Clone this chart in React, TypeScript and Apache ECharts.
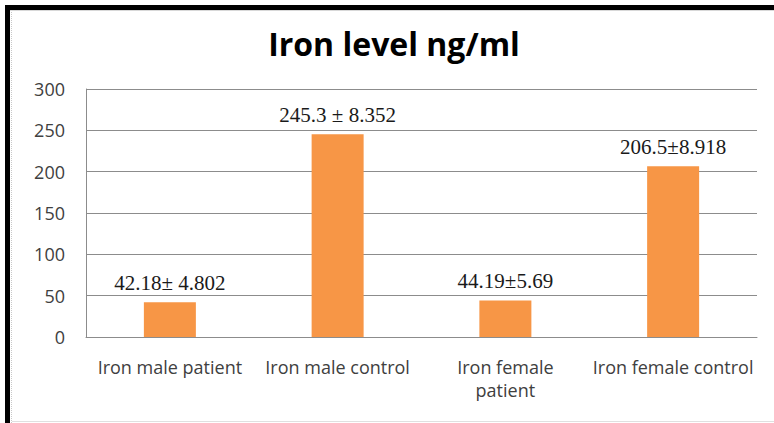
import React, { useEffect, useRef } from "react";
import * as echarts from "echarts";

const categories = [
  "Iron male patient",
  "Iron male control",
  "Iron female\npatient",
  "Iron female control",
];
const values = [42.18, 245.3, 44.19, 206.5];
const valueLabels = ["42.18\u00b1 4.802", "245.3 \u00b1 8.352", "44.19\u00b15.69", "206.5\u00b18.918"];
const titleText = "Iron level ng/ml";
const yMin = 0;
const yMax = 300;
const yInterval = 50;

export default function App() {
  const ref = useRef<HTMLDivElement>(null);
  useEffect(() => {
    document.body.style.margin = "0";
    const chart = echarts.init(ref.current!, undefined, { renderer: "svg" });
    chart.setOption({
      animation: false,
      backgroundColor: "#ffffff",
      grid: {
        left: 86,
        right: 17,
        top: 89,
        bottom: 86,
        containLabel: false,
        outerBoundsMode: "none",
      },
      graphic: [
        { type: "rect", shape: { x: 5, y: 5, width: 769, height: 5 }, style: { fill: "#000" }, silent: true },
        { type: "rect", shape: { x: 5, y: 5, width: 5, height: 418 }, style: { fill: "#000" }, silent: true },
        { type: "line", shape: { x1: 11.5, y1: 10, x2: 11.5, y2: 423 }, style: { stroke: "#c8c8c8", lineWidth: 1, lineDash: [1, 1] }, silent: true },
        { type: "line", shape: { x1: 10, y1: 10.5, x2: 774, y2: 10.5 }, style: { stroke: "#d8d8d8", lineWidth: 1 }, silent: true },
        { type: "line", shape: { x1: 12, y1: 421.5, x2: 774, y2: 421.5 }, style: { stroke: "#e0e0e0", lineWidth: 1 }, silent: true },
        {
          type: "text",
          x: 394,
          y: 43,
          style: {
            text: titleText,
            font: "bold 32px 'Open Sans'",
            fill: "#000",
            textAlign: "center",
            textVerticalAlign: "middle",
          },
        },
      ],
      xAxis: {
        type: "category",
        data: categories,
        axisLine: { show: true, lineStyle: { color: "#8c8c8c", width: 1 } },
        axisTick: { show: false },
        axisLabel: {
          interval: 0,
          color: "#404040",
          fontFamily: "Open Sans",
          fontSize: 18,
          lineHeight: 23,
          margin: 18,
        },
      },
      yAxis: {
        type: "value",
        min: yMin,
        max: yMax,
        interval: yInterval,
        axisLine: { show: true, lineStyle: { color: "#8c8c8c", width: 1 } },
        axisTick: { show: false },
        splitLine: { show: true, lineStyle: { color: "#8c8c8c", width: 1 } },
        axisLabel: {
          color: "#404040",
          fontFamily: "Open Sans",
          fontSize: 18,
          margin: 21,
        },
      },
      series: [
        {
          type: "bar",
          data: values,
          barWidth: 52,
          itemStyle: { color: "#F79646" },
          label: {
            show: true,
            position: "top",
            distance: 9,
            formatter: (p: any) => valueLabels[p.dataIndex],
            fontFamily: "Liberation Serif",
            fontSize: 21,
            color: "#1a1a1a",
          },
        },
      ],
    });
    return () => chart.dispose();
  }, []);
  return <div ref={ref} style={{ width: 774, height: 423 }} />;
}
